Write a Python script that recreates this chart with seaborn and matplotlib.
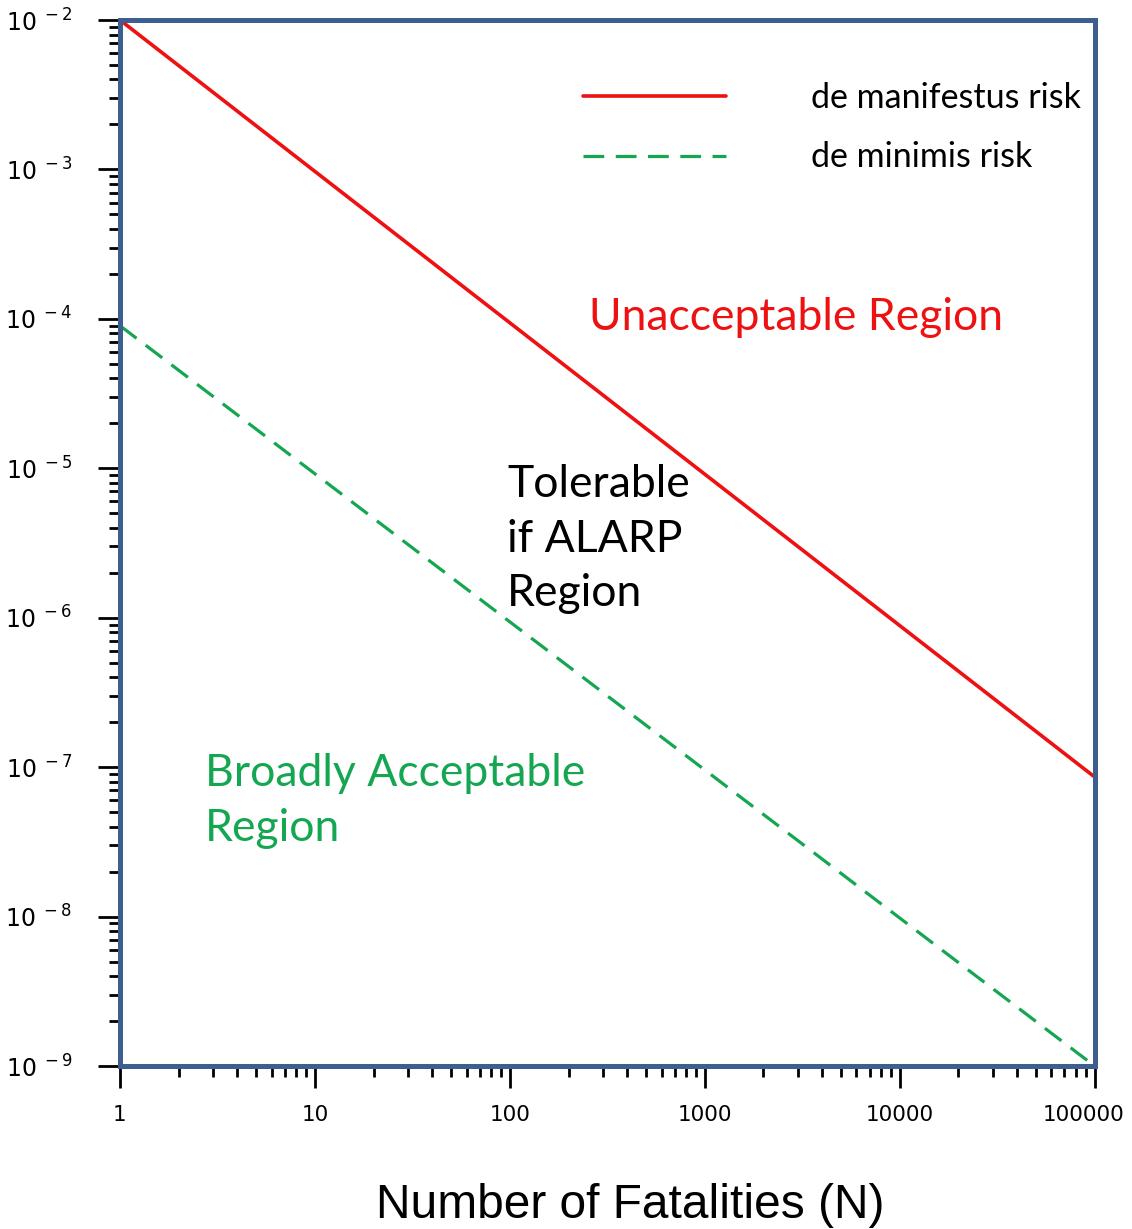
import numpy as np
import pandas as pd
import matplotlib
matplotlib.use("Agg")
import matplotlib.pyplot as plt
import matplotlib.ticker as mticker
import matplotlib.transforms as mtransforms
import seaborn as sns

# ======================
# Data (F-N criterion lines)
# ======================
n_fatalities = [1, 100000]
manifestus_freq = [1e-2, 8.6e-8]
minimis_freq = [9e-5, 1e-9]
x_ticks = [1, 10, 100, 1000, 10000, 100000]
x_tick_labels = ["1", "10", "100", "1000", "10000", "100000"]
y_ticks = [1e-9, 1e-8, 1e-7, 1e-6, 1e-5, 1e-4, 1e-3, 1e-2]

red = "#ee1111"
green = "#14a651"
frame = "#3d5e8e"

sns.set_style("white")
plt.rcParams["font.family"] = ["DejaVu Sans"]
plt.rcParams["text.color"] = "black"

df = pd.DataFrame({
    "N": n_fatalities * 2,
    "F": manifestus_freq + minimis_freq,
    "line": ["de manifestus risk"] * 2 + ["de minimis risk"] * 2,
})

fig = plt.figure(figsize=(11.32, 12.29), dpi=100)
ax = fig.add_axes([0.106, 0.1326, 0.861, 0.8511])

sns.lineplot(data=df[df["line"] == "de manifestus risk"], x="N", y="F",
             color=red, linewidth=2.6, ax=ax, label="de manifestus risk")
sns.lineplot(data=df[df["line"] == "de minimis risk"], x="N", y="F",
             color=green, linewidth=2.3, ax=ax, label="de minimis risk")
ax.lines[1].set_dashes((6.5, 3.6))

ax.set_xscale("log")
ax.set_yscale("log")
ax.set_xlim(1, 100000)
ax.set_ylim(1e-9, 1e-2)

ax.set_xticks(x_ticks)
ax.set_xticklabels(x_tick_labels)
ax.set_yticks(y_ticks)
ax.yaxis.set_major_formatter(mticker.FuncFormatter(
    lambda v, p: r"$\mathregular{10^{\ %d}}$" % int(round(np.log10(v)))))
ax.xaxis.set_minor_locator(mticker.LogLocator(base=10, subs=np.arange(2, 10), numticks=100))
ax.yaxis.set_minor_locator(mticker.LogLocator(base=10, subs=np.arange(2, 10), numticks=100))
ax.yaxis.set_minor_formatter(mticker.NullFormatter())
ax.xaxis.set_minor_formatter(mticker.NullFormatter())

ax.tick_params(axis="both", which="major", direction="out", length=16,
               width=2, color="black", labelcolor="black")
ax.tick_params(axis="both", which="minor", direction="out", length=8,
               width=2, color="black")
ax.tick_params(axis="x", which="major", pad=12, labelsize=15.5)
ax.tick_params(axis="y", which="major", pad=18, labelsize=17)
ax.tick_params(axis="both", which="both", bottom=True, left=True)

# last x label sits a little left of its tick, as in the original
last = ax.get_xticklabels()[-1]
last.set_transform(last.get_transform() +
                   mtransforms.ScaledTranslation(-0.11, 0, fig.dpi_scale_trans))

for s in ax.spines.values():
    s.set_color(frame)
    s.set_linewidth(3.6)
    s.set_visible(True)

ax.set_xlabel("")
ax.set_ylabel("")

leg = ax.legend(loc="upper left", bbox_to_anchor=(0.475, 0.9405), frameon=False,
                handlelength=4.2, handletextpad=2.5,
                labelspacing=0.8, borderpad=0, borderaxespad=0,
                prop={"family": "Lato", "size": 24.5})
for t in leg.get_texts():
    t.set_color("black")

# region labels
ax.text(0.481, 0.716, "Unacceptable Region", transform=ax.transAxes,
        color=red, fontsize=32, family="Lato", va="center", ha="left")
ax.text(0.397, 0.5037, "Tolerable\nif ALARP\nRegion", transform=ax.transAxes,
        color="black", fontsize=32, family="Lato", va="center", ha="left",
        linespacing=1.4)
ax.text(0.087, 0.2533, "Broadly Acceptable\nRegion", transform=ax.transAxes,
        color=green, fontsize=32, family="Lato", va="center", ha="left",
        linespacing=1.4)

fig.text(0.557, 0.0195, "Number of Fatalities (N)", ha="center", va="center",
         fontsize=34.5, family="Liberation Sans", color="black")

fig.savefig("out.png", dpi=100, facecolor="white")
